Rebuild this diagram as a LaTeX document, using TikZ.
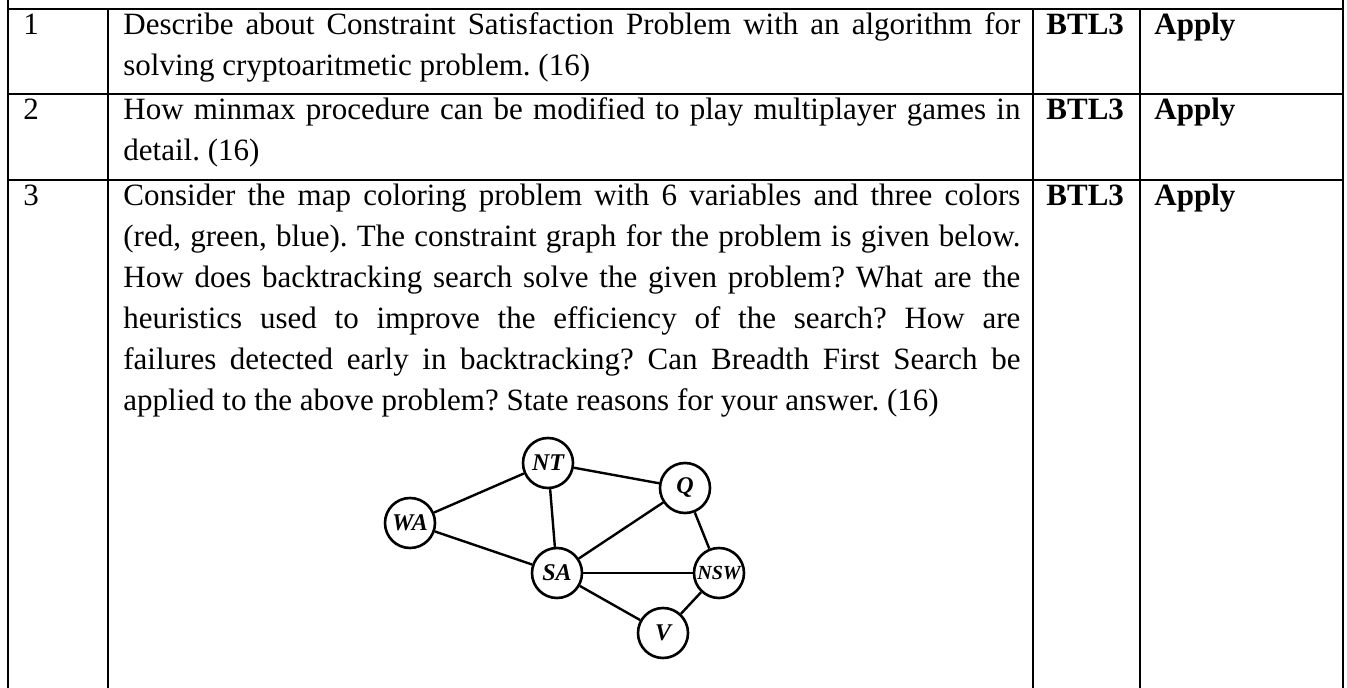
\documentclass[tikz,border=0pt]{standalone}
\usepackage{fontspec}
\setmainfont{Liberation Serif}
\begin{document}
\begin{tikzpicture}[x=0.5pt,y=-0.5pt,
		rule/.style={line width=1.1pt},
		cell/.style={anchor=base west,inner sep=0pt,font=\fontsize{15.5}{20.5}\selectfont\frenchspacing},
		question/.style={cell,text width=448.5pt,align=justify},
		label/.style={cell,font=\fontsize{15.5}{20.5}\selectfont\bfseries},
		region/.style={circle,draw,line width=1.3pt,minimum size=25pt,inner sep=0pt,font=\fontsize{12}{12}\selectfont\bfseries\itshape},
		border/.style={line width=1.2pt}]
			\useasboundingbox (0,0) rectangle (1347,688);
			\draw[rule] (8,0) -- (8,688);
			\draw[rule] (1343,0) -- (1343,688);
			\foreach \x in {108,1033,1140}
				\draw[rule] (\x,9) -- (\x,688);
			\foreach \y in {9,94,180}
				\draw[rule] (8,\y) -- (1343,\y);
			\foreach \r/\y in {1/35,2/120,3/206}
			{
				\node[cell] (num\r) at (23,\y) {\r};
				\node[label] (btl\r) at (1046,\y) {BTL3};
				\node[label] (apply\r) at (1154,\y) {Apply};
			}
			\node[question] (q1) at (123,35)
			{
				Describe about Constraint Satisfaction Problem with an algorithm for\linebreak
				solving cryptoaritmetic problem. (16)
			};
			\node[question] (q2) at (123,120)
			{
				How minmax procedure can be modified to play multiplayer games in\linebreak
				detail. (16)
			};
			\node[question] (q3) at (123,206)
			{
				Consider the map coloring problem with 6 variables and three colors\linebreak
				(red, green, blue). The constraint graph for the problem is given below.\linebreak
				How does backtracking search solve the given problem? What are the\linebreak
				heuristics used to improve the efficiency of the search? How are\linebreak
				failures detected early in backtracking? Can Breadth First Search be\linebreak
				applied to the above problem? State reasons for your answer. (16)
			};
			\node[region] (wa) at (410,523) {WA};
			\node[region] (nt) at (548,463) {NT};
			\node[region] (q) at (685,488) {Q};
			\node[region] (sa) at (557,573) {SA};
			\node[region,font=\fontsize{10}{10}\selectfont\bfseries\itshape] (nsw) at (719,573) {NSW};
			\node[region] (v) at (663,633) {V};
			\draw[border] (wa) -- (nt);
			\draw[border] (wa) -- (sa);
			\draw[border] (nt) -- (sa);
			\draw[border] (nt) -- (q);
			\draw[border] (sa) -- (q);
			\draw[border] (sa) -- (nsw);
			\draw[border] (sa) -- (v);
			\draw[border] (q) -- (nsw);
			\draw[border] (nsw) -- (v);
		\end{tikzpicture}
\end{document}
